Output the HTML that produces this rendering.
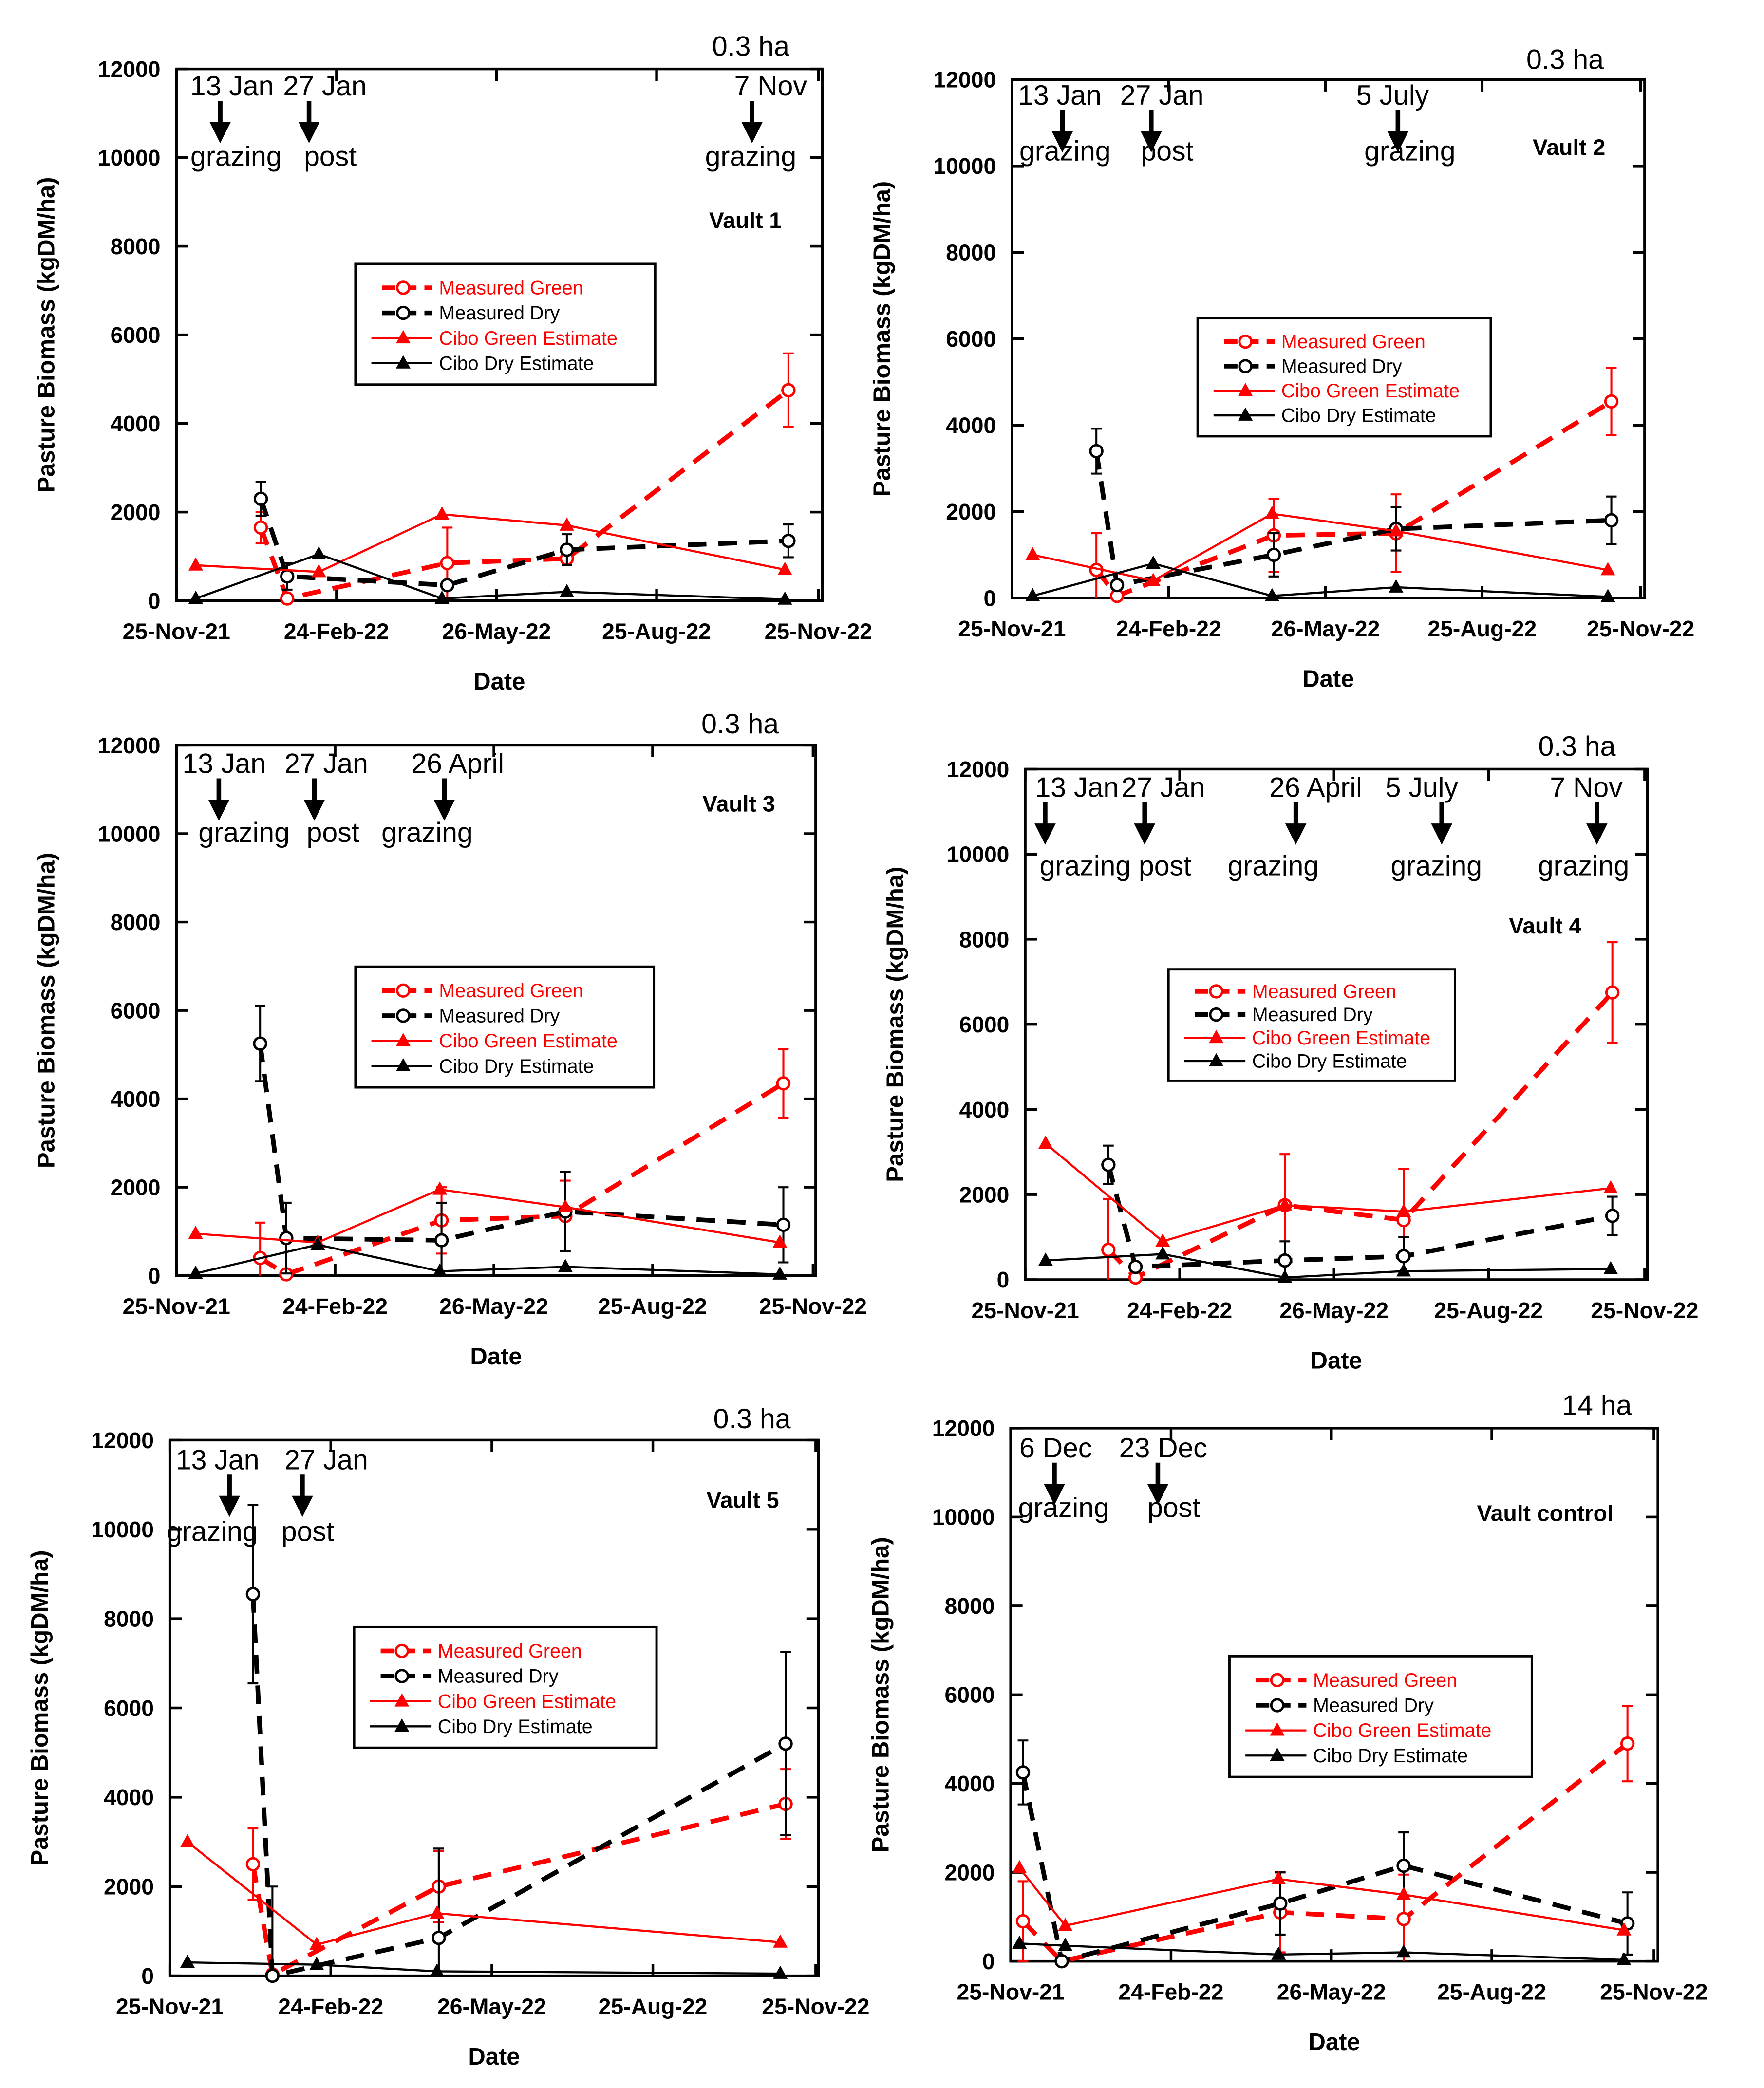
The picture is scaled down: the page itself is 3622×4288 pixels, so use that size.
<!DOCTYPE html>
<html><head><meta charset="utf-8"><style>
html,body{margin:0;padding:0;background:#fff}
svg{display:block}
text{font-family:"Liberation Sans",sans-serif}
.tick{font-weight:bold;font-size:17px}
.ann{font-size:21px}
.leg{font-size:14.5px}
</style></head><body>
<svg id="chart" width="3622" height="4288" viewBox="0 0 1330 1574.6" xmlns="http://www.w3.org/2000/svg"></svg>
<script>
// ---- data (days since 25-Nov-21, biomass kgDM/ha) ----
const xTickLabels = ["25-Nov-21","24-Feb-22","26-May-22","25-Aug-22","25-Nov-22"];
const xTickDays = [0,91,182,273,365];
const yTicks = [0,2000,4000,6000,8000,10000,12000];

const v1MgDays=[48,63,154,222,348], v1MgVals=[1650,50,850,950,4750], v1MgErr=[350,0,800,0,830];
const v1MdDays=[48,63,154,222,348], v1MdVals=[2300,550,350,1150,1350], v1MdErr=[380,300,0,350,370];
const v1CgDays=[11,81,151,222,346], v1CgVals=[800,650,1950,1700,700];
const v1CdDays=[11,81,151,222,346], v1CdVals=[50,1050,50,200,30];

const v2MgDays=[49,61,152,223,348], v2MgVals=[650,50,1450,1500,4550], v2MgErr=[850,0,850,900,780];
const v2MdDays=[49,61,152,223,348], v2MdVals=[3400,300,1000,1600,1800], v2MdErr=[520,0,500,500,550];
const v2CgDays=[12,82,151,223,346], v2CgVals=[1000,400,1950,1550,650];
const v2CdDays=[12,82,151,223,346], v2CdVals=[50,800,50,250,30];

const v3MgDays=[48,63,152,223,348], v3MgVals=[400,30,1250,1350,4350], v3MgErr=[800,0,750,800,780];
const v3MdDays=[48,63,152,223,348], v3MdVals=[5250,850,800,1450,1150], v3MdErr=[850,800,850,900,850];
const v3CgDays=[11,81,151,223,346], v3CgVals=[950,750,1950,1550,750];
const v3CdDays=[11,81,151,223,346], v3CdVals=[50,700,100,200,30];

const v4MgDays=[49,65,153,223,346], v4MgVals=[700,50,1750,1400,6750], v4MgErr=[1200,0,1200,1200,1180];
const v4MdDays=[49,65,153,223,346], v4MdVals=[2700,300,450,550,1500], v4MdErr=[450,0,450,450,450];
const v4CgDays=[12,81,153,223,345], v4CgVals=[3200,900,1750,1600,2150];
const v4CdDays=[12,81,153,223,345], v4CdVals=[450,600,50,200,250];

const v5MgDays=[47,58,152,348], v5MgVals=[2500,30,2000,3850], v5MgErr=[800,0,800,780];
const v5MdDays=[47,58,152,348], v5MdVals=[8550,0,850,5200], v5MdErr=[2000,2000,2000,2050];
const v5CgDays=[10,83,151,345], v5CgVals=[3000,700,1400,750];
const v5CdDays=[10,83,151,345], v5CdVals=[300,250,100,50];

const vcMgDays=[7,29,153,223,350], vcMgVals=[900,0,1100,950,4900], vcMgErr=[900,0,900,1000,850];
const vcMdDays=[7,29,153,223,350], vcMdVals=[4250,0,1300,2150,850], vcMdErr=[720,0,700,750,700];
const vcCgDays=[5,31,152,223,348], vcCgVals=[2100,800,1850,1500,700];
const vcCdDays=[5,31,152,223,348], vcCdVals=[400,350,150,200,30];

const panels=[
 {id:"vault-1",x0:133,x1:617,xr:620,yt:52,yb:453,ha:"0.3 ha",haX:566,haY:42,lbl:"Vault 1",lx:562,ly:172,leg:[268,199,226,91],
  mg:[v1MgDays,v1MgVals,v1MgErr],md:[v1MdDays,v1MdVals,v1MdErr],cg:[v1CgDays,v1CgVals],cd:[v1CdDays,v1CdVals],
  ann:[["13 Jan",175,72,"grazing",178,125,166],["27 Jan",245,72,"post",249,125,233],["7 Nov",581,72,"grazing",566,125,567]]},
 {id:"vault-2",x0:763,x1:1237,xr:1240,yt:60,yb:451,ha:"0.3 ha",haX:1180,haY:52,lbl:"Vault 2",lx:1183,ly:117,leg:[903,240,221,89],
  mg:[v2MgDays,v2MgVals,v2MgErr],md:[v2MdDays,v2MdVals,v2MdErr],cg:[v2CgDays,v2CgVals],cd:[v2CdDays,v2CdVals],
  ann:[["13 Jan",799,79,"grazing",803,121,801],["27 Jan",876,79,"post",880,121,868],["5 July",1050,79,"grazing",1063,121,1054]]},
 {id:"vault-3",x0:133,x1:613,xr:615,yt:562,yb:962,ha:"0.3 ha",haX:558,haY:553,lbl:"Vault 3",lx:557,ly:612,leg:[268,729,225,91],
  mg:[v3MgDays,v3MgVals,v3MgErr],md:[v3MdDays,v3MdVals,v3MdErr],cg:[v3CgDays,v3CgVals],cd:[v3CdDays,v3CdVals],
  ann:[["13 Jan",169,583,"grazing",184,635,165],["27 Jan",246,583,"post",251,635,237],["26 April",345,583,"grazing",322,635,335]]},
 {id:"vault-4",x0:773,x1:1240,xr:1242,yt:580,yb:965,ha:"0.3 ha",haX:1189,haY:570,lbl:"Vault 4",lx:1165,ly:704,leg:[881,731,216,84],
  mg:[v4MgDays,v4MgVals,v4MgErr],md:[v4MdDays,v4MdVals,v4MdErr],cg:[v4CgDays,v4CgVals],cd:[v4CdDays,v4CdVals],
  ann:[["13 Jan",812,601,"grazing post",841,660,788],["27 Jan",877,601,"",0,0,863],["26 April",992,601,"grazing",960,660,977],["5 July",1072,601,"grazing",1083,660,1087],["7 Nov",1196,601,"grazing",1194,660,1204]]},
 {id:"vault-5",x0:128,x1:615,xr:617,yt:1086,yb:1490,ha:"0.3 ha",haX:567,haY:1077,lbl:"Vault 5",lx:560,ly:1137,leg:[267,1227,228,91],
  mg:[v5MgDays,v5MgVals,v5MgErr],md:[v5MdDays,v5MdVals,v5MdErr],cg:[v5CgDays,v5CgVals],cd:[v5CdDays,v5CdVals],
  ann:[["13 Jan",164,1108,"grazing",160,1162,173],["27 Jan",246,1108,"post",232,1162,228]]},
 {id:"vault-control",x0:762,x1:1247,xr:1250,yt:1077,yb:1479,ha:"14 ha",haX:1204,haY:1067,lbl:"Vault control",lx:1165,ly:1147,leg:[927,1249,228,91],
  mg:[vcMgDays,vcMgVals,vcMgErr],md:[vcMdDays,vcMdVals,vcMdErr],cg:[vcCgDays,vcCgVals],cd:[vcCdDays,vcCdVals],
  ann:[["6 Dec",796,1099,"grazing",802,1144,795],["23 Dec",877,1099,"post",885,1144,873]]}
];

const NS="http://www.w3.org/2000/svg";
const svg=document.getElementById("chart");
function mk(tag,attrs,parent){const e=document.createElementNS(NS,tag);for(const k in attrs)e.setAttribute(k,attrs[k]);(parent||svg).appendChild(e);return e;}
function txt(s,attrs,parent){const e=mk("text",attrs,parent);e.textContent=s;return e;}

function marker(g,type,x,y,color){
  if(type==="circ"){const c=mk("circle",{cx:x,cy:y,r:4.5,fill:"#fff",stroke:color,"stroke-width":1.8},g);return c;}
  return mk("polygon",{points:`${x},${y-6} ${x-5.5},${y+4} ${x+5.5},${y+4}`,fill:color},g);
}

panels.forEach(p=>{
  const g=mk("g",{});
  
  
  const sx=d=>p.x0+(p.x1-p.x0)*d/365;
  const sy=v=>p.yb-(p.yb-p.yt)*v/12000;
  // frame
  const fr=mk("rect",{x:p.x0,y:p.yt,width:p.xr-p.x0,height:p.yb-p.yt,fill:"none",stroke:"#000","stroke-width":2},g);
  
  
  // y ticks
  yTicks.forEach(v=>{
    const y=sy(v);
    mk("line",{x1:p.x0,x2:p.x0+9,y1:y,y2:y,stroke:"#000","stroke-width":2},g);
    mk("line",{x1:p.xr,x2:p.xr-9,y1:y,y2:y,stroke:"#000","stroke-width":2},g);
    const t=txt(String(v),{x:p.x0-12,y:y+6,"text-anchor":"end",class:"tick"},g);
    
    
  });
  xTickDays.forEach((d,i)=>{
    const x=sx(d);
    mk("line",{x1:x,x2:x,y1:p.yb,y2:p.yb-9,stroke:"#000","stroke-width":2},g);
    mk("line",{x1:x,x2:x,y1:p.yt,y2:p.yt+9,stroke:"#000","stroke-width":2},g);
    const t=txt(xTickLabels[i],{x:x,y:p.yb+29,"text-anchor":"middle",class:"tick"},g);
    
    
  });
  const xt=txt("Date",{x:(p.x0+p.xr)/2,y:p.yb+67,"text-anchor":"middle","font-weight":"bold","font-size":18},g);
  
  
  const yc=(p.yt+p.yb)/2, yx=p.x0-92;
  const yt=txt("Pasture Biomass (kgDM/ha)",{x:yx,y:yc,"text-anchor":"middle","font-weight":"bold","font-size":18,transform:`rotate(-90 ${yx} ${yc})`},g);
  
  
  const ha=txt(p.ha,{x:p.haX,y:p.haY,"text-anchor":"middle",class:"ann","font-size":23},g);
  
  
  const vl=txt(p.lbl,{x:p.lx,y:p.ly,"text-anchor":"middle","font-weight":"bold","font-size":17},g);
  
  
  // annotations
  p.ann.forEach(a=>{
    const t1=txt(a[0],{x:a[1],y:a[2],"text-anchor":"middle",class:"ann"},g);
    
    
    if(a[3]){const t2=txt(a[3],{x:a[4],y:a[5],"text-anchor":"middle",class:"ann"},g);
      
      }
    const ax=a[6], ay=a[2]+4;
    const ar=mk("g",{},g);
    
    
    mk("line",{x1:ax,x2:ax,y1:ay,y2:ay+18,stroke:"#000","stroke-width":3.5},ar);
    mk("polygon",{points:`${ax-8},${ay+16} ${ax+8},${ay+16} ${ax},${ay+32}`,fill:"#000"},ar);
  });
  // series
  function series(name,days,vals,err,color,dash,mtype,w){
    const sg=mk("g",{},g);
    
    
    if(err){days.forEach((d,i)=>{if(!err[i])return;const x=sx(d);
      mk("line",{x1:x,x2:x,y1:sy(Math.max(0,vals[i]-err[i])),y2:sy(vals[i]+err[i]),stroke:color,"stroke-width":1.5},sg);
      [vals[i]-err[i],vals[i]+err[i]].forEach(v=>{if(v<0)return;mk("line",{x1:x-4,x2:x+4,y1:sy(v),y2:sy(v),stroke:color,"stroke-width":1.5},sg);});
    });}
    const pts=days.map((d,i)=>sx(d)+","+sy(vals[i])).join(" ");
    const pl=mk("polyline",{points:pts,fill:"none",stroke:color,"stroke-width":w,"stroke-dasharray":dash||"none"},sg);
    days.forEach((d,i)=>{const m=marker(sg,mtype,sx(d),sy(vals[i]),color);
      
      });
  }
  series("measured-green-series",p.mg[0],p.mg[1],p.mg[2],"#ff0000","14,9","circ",3.5);
  series("measured-dry-series",p.md[0],p.md[1],p.md[2],"#000","14,9","circ",3.5);
  series("cibo-green-series",p.cg[0],p.cg[1],null,"#ff0000",null,"tri",1.6);
  series("cibo-dry-series",p.cd[0],p.cd[1],null,"#000",null,"tri",1.6);
  // legend
  const L=p.leg;
  const lg=mk("g",{},g);
  
  
  mk("rect",{x:L[0],y:L[1],width:L[2],height:L[3],fill:"#fff",stroke:"#000","stroke-width":1.8},lg);
  const items=[["Measured Green","#ff0000",true,"circ"],["Measured Dry","#000",true,"circ"],["Cibo Green Estimate","#ff0000",false,"tri"],["Cibo Dry Estimate","#000",false,"tri"]];
  const step=L[3]/4.8;
  items.forEach((it,i)=>{
    const y=L[1]+step*(i+0.95);
    const e=mk("g",{},lg);
    
    
    if(it[2]){mk("line",{x1:L[0]+20,x2:L[0]+58,y1:y,y2:y,stroke:it[1],"stroke-width":3.5,"stroke-dasharray":"10,6"},e);}
    else mk("line",{x1:L[0]+12,x2:L[0]+58,y1:y,y2:y,stroke:it[1],"stroke-width":1.6},e);
    marker(e,it[3],L[0]+36,y,it[1]);
    txt(it[0],{x:L[0]+63,y:y+5,fill:it[1],class:"leg"},e);
  });
});
</script>
</body></html>
